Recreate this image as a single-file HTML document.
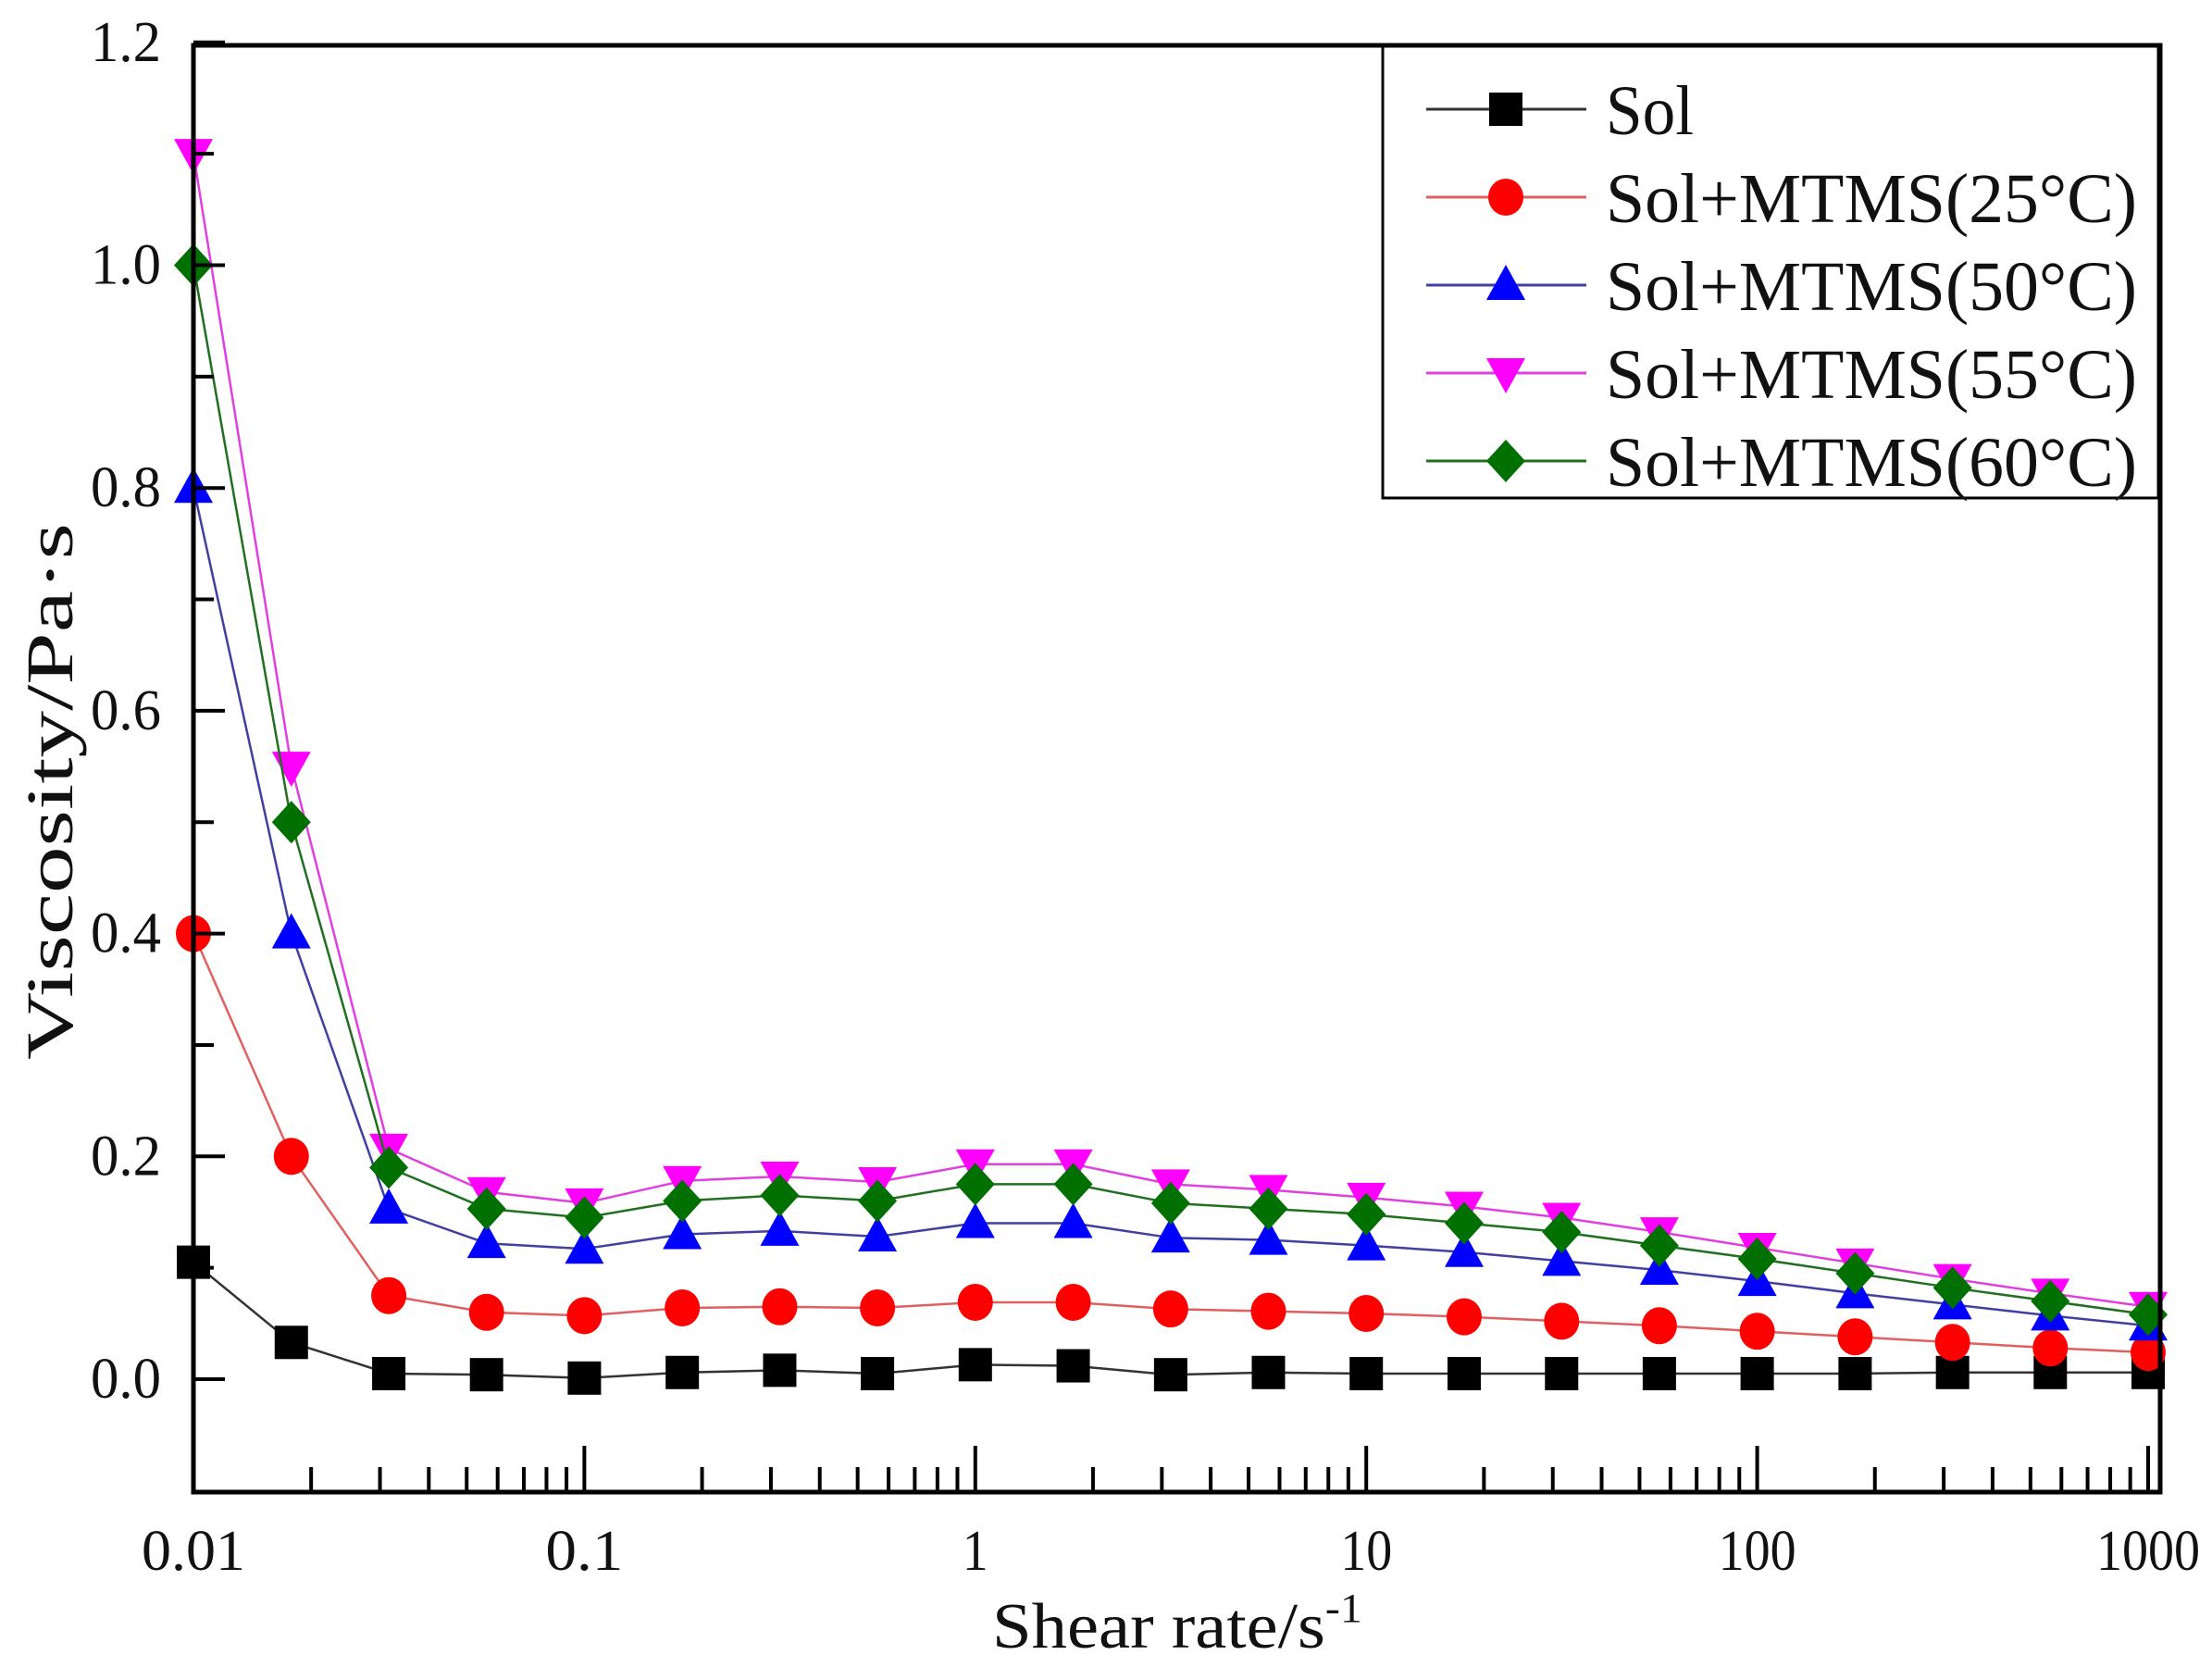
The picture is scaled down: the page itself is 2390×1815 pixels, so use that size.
<!DOCTYPE html>
<html><head><meta charset="utf-8"><style>html,body{margin:0;padding:0;background:#fff}svg{display:block}text{font-family:"Liberation Serif","Times New Roman",serif;fill:#111}</style></head>
<body>
<svg id="chart" width="2390" height="1815" viewBox="0 0 2390 1815" xmlns="http://www.w3.org/2000/svg"></svg>
<script>
const shearRates = [0.01,0.0178,0.0316,0.0562,0.1,0.178,0.316,0.562,1,1.78,3.16,5.62,10,17.8,31.6,56.2,100,178,316,562,1000];
const solValues = [0.105,0.033,0.005,0.004,0.001,0.006,0.008,0.005,0.013,0.012,0.004,0.006,0.005,0.005,0.005,0.005,0.005,0.005,0.006,0.006,0.006];
const mtms25Values = [0.4,0.2,0.075,0.06,0.057,0.064,0.065,0.064,0.069,0.069,0.063,0.061,0.059,0.056,0.052,0.048,0.043,0.038,0.033,0.028,0.024];
const mtms50Values = [0.8,0.4,0.153,0.122,0.117,0.13,0.133,0.128,0.14,0.14,0.127,0.125,0.12,0.114,0.106,0.098,0.088,0.077,0.067,0.057,0.048];
const mtms55Values = [1.1,0.55,0.207,0.168,0.158,0.178,0.182,0.177,0.193,0.193,0.175,0.17,0.163,0.155,0.145,0.132,0.118,0.104,0.09,0.077,0.065];
const mtms60Values = [1.0,0.5,0.19,0.153,0.145,0.16,0.165,0.16,0.175,0.175,0.158,0.153,0.148,0.14,0.132,0.12,0.108,0.095,0.082,0.07,0.058];
const seriesNames = ["Sol","Sol+MTMS(25°C)","Sol+MTMS(50°C)","Sol+MTMS(55°C)","Sol+MTMS(60°C)"];
const yTickLabels = ["0.0","0.2","0.4","0.6","0.8","1.0","1.2"];
const xTickLabels = ["0.01","0.1","1","10","100","1000"];

const NS="http://www.w3.org/2000/svg";
const svg=document.getElementById('chart');
const L=209,R=2334,T=49,B=1612;
const X0=209,DEC=422.4,Y0=1490,YU=1203.5;
function xs(v){return X0+Math.log10(v/0.01)*DEC;}
function ys(v){return Y0-v*YU;}
function mk(tag,attrs,parent){const e=document.createElementNS(NS,tag);for(const k in attrs)e.setAttribute(k,attrs[k]);(parent||svg).appendChild(e);return e;}

const colors=["#000000","#ff0000","#0000ff","#ff00ff","#007000"];
const lineColors=["#333","#e06060","#4040a0","#e040e0","#207020"];
const shapes=["square","circle","up","down","diamond"];
const allSeries=[solValues,mtms25Values,mtms50Values,mtms55Values,mtms60Values];

function marker(shape,cx,cy,color,g){
  let e;
  if(shape==="square") e=mk('rect',{x:cx-18,y:cy-18,width:36,height:36,fill:color},g);
  else if(shape==="circle") e=mk('ellipse',{cx:cx,cy:cy,rx:19,ry:20,fill:color},g);
  else if(shape==="up") e=mk('polygon',{points:`${cx},${cy-22} ${cx-21},${cy+16} ${cx+21},${cy+16}`,fill:color},g);
  else if(shape==="down") e=mk('polygon',{points:`${cx},${cy+22} ${cx-21},${cy-16} ${cx+21},${cy-16}`,fill:color},g);
  else e=mk('polygon',{points:`${cx},${cy-23} ${cx+21},${cy} ${cx},${cy+23} ${cx-21},${cy}`,fill:color},g);
  return e;
}

allSeries.forEach((vals,si)=>{
  const g=mk('g',{});
  
  
  const d=vals.map((v,i)=>(i?'L':'M')+xs(shearRates[i]).toFixed(1)+' '+ys(v).toFixed(1)).join(' ');
  const p=mk('path',{d:d,fill:'none',stroke:lineColors[si],'stroke-width':2.5,'stroke-linejoin':'round'},g);
  
  
  vals.forEach((v,i)=>{
    const m=marker(shapes[si],xs(shearRates[i]),ys(v),colors[si],g);
    
    
  });
});

const frame=mk('rect',{x:L,y:T,width:R-L,height:B-T,fill:'none',stroke:'#000','stroke-width':5});



for(let k=-1;k<=12;k++){
  const v=k/10,y=ys(v);if(y>B-2)continue;
  const major=k%2===0;
  mk('line',{x1:L,x2:L+(major?34:22),y1:y,y2:y,stroke:'#000','stroke-width':4});
}
yTickLabels.forEach((lab,i)=>{
  const t=mk('text',{x:174,y:ys(parseFloat(lab))+20,'text-anchor':'end','font-size':62,textLength:76,lengthAdjust:'spacingAndGlyphs'});
  t.textContent=lab;
  
  
});
for(let d=0;d<5;d++){for(let m=1;m<10;m++){
  const v=0.01*Math.pow(10,d)*m;const x=xs(v);
  mk('line',{x1:x,x2:x,y1:B,y2:B-(m===1?50:27),stroke:'#000','stroke-width':4});
}}
mk('line',{x1:xs(1000),x2:xs(1000),y1:B,y2:B-50,stroke:'#000','stroke-width':4});
xTickLabels.forEach((lab,i)=>{
  const t=mk('text',{x:xs(parseFloat(lab)),y:1696,'text-anchor':'middle','font-size':62,textLength:lab.length*28,lengthAdjust:'spacingAndGlyphs'});
  t.textContent=lab;
  
  
});
const xt=mk('text',{x:1072,y:1780,'font-size':70,textLength:400,lengthAdjust:'spacingAndGlyphs'});
xt.innerHTML='Shear rate/s<tspan font-size="44" dy="-28">-1</tspan>';


const yt=mk('text',{x:0,y:0,'font-size':72,'text-anchor':'middle',textLength:580,lengthAdjust:'spacingAndGlyphs',transform:'translate(78,855) rotate(-90)'});
yt.textContent='Viscosity/Pa·s';



const lg=mk('g',{});


mk('rect',{x:1494,y:50,width:838,height:488,fill:'#fff',stroke:'#000','stroke-width':3},lg);
const ly=[118,213,308,403,498];
seriesNames.forEach((n,i)=>{
  const e=mk('g',{},lg);
  
  
  mk('line',{x1:1541,x2:1714,y1:ly[i],y2:ly[i],stroke:lineColors[i],'stroke-width':3},e);
  marker(shapes[i],1627,ly[i],colors[i],e);
  const t=mk('text',{x:1735,y:ly[i]+27,'font-size':76,textLength:i===0?95:574,lengthAdjust:'spacingAndGlyphs'},e);
  t.textContent=n;
});
</script>
</body></html>
